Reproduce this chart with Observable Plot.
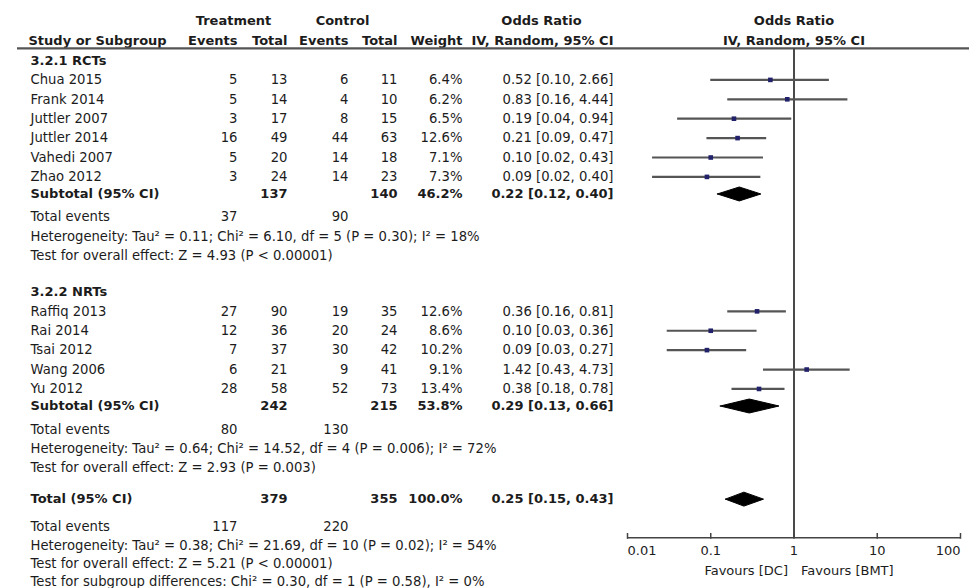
<!DOCTYPE html>
<html><head><meta charset="utf-8">
<script src="https://cdn.jsdelivr.net/npm/d3@7"></script>
<script src="https://cdn.jsdelivr.net/npm/@observablehq/plot@0.6"></script>
<style>body{margin:0;background:#fff} svg{display:block}</style>
</head><body><div id="chart"></div>
<script>
// ---- data ----
const groupLabels = ["3.2.1 RCTs", "3.2.2 NRTs"];

const rctStudies = ["Chua 2015","Frank 2014","Juttler 2007","Juttler 2014","Vahedi 2007","Zhao 2012"];
const rctTreatEvents = [5,5,3,16,5,3];
const rctTreatTotal = [13,14,17,49,20,24];
const rctCtrlEvents = [6,4,8,44,14,14];
const rctCtrlTotal = [11,10,15,63,18,23];
const rctWeight = [6.4,6.2,6.5,12.6,7.1,7.3];
const rctOR = [0.52,0.83,0.19,0.21,0.10,0.09];
const rctLo = [0.10,0.16,0.04,0.09,0.02,0.02];
const rctHi = [2.66,4.44,0.94,0.47,0.43,0.40];

const nrtStudies = ["Raffiq 2013","Rai 2014","Tsai 2012","Wang 2006","Yu 2012"];
const nrtTreatEvents = [27,12,7,6,28];
const nrtTreatTotal = [90,36,37,21,58];
const nrtCtrlEvents = [19,20,30,9,52];
const nrtCtrlTotal = [35,24,42,41,73];
const nrtWeight = [12.6,8.6,10.2,9.1,13.4];
const nrtOR = [0.36,0.10,0.09,1.42,0.38];
const nrtLo = [0.16,0.03,0.03,0.43,0.18];
const nrtHi = [0.81,0.36,0.27,4.73,0.78];

// subtotals: [RCTs, NRTs, Overall]
const sumLabels = ["Subtotal (95% CI)","Subtotal (95% CI)","Total (95% CI)"];
const sumTreatTotal = [137,242,379];
const sumCtrlTotal = [140,215,355];
const sumWeight = [46.2,53.8,100.0];
const sumOR = [0.22,0.29,0.25];
const sumLo = [0.12,0.13,0.15];
const sumHi = [0.40,0.66,0.43];
const sumTreatEvents = [37,80,117];
const sumCtrlEvents = [90,130,220];
const hetTexts = [
  "Heterogeneity: Tau² = 0.11; Chi² = 6.10, df = 5 (P = 0.30); I² = 18%",
  "Heterogeneity: Tau² = 0.64; Chi² = 14.52, df = 4 (P = 0.006); I² = 72%",
  "Heterogeneity: Tau² = 0.38; Chi² = 21.69, df = 10 (P = 0.02); I² = 54%"
];
const effectTexts = [
  "Test for overall effect: Z = 4.93 (P < 0.00001)",
  "Test for overall effect: Z = 2.93 (P = 0.003)",
  "Test for overall effect: Z = 5.21 (P < 0.00001)"
];
const subgroupText = "Test for subgroup differences: Chi² = 0.30, df = 1 (P = 0.58), I² = 0%";
const axisTicks = [0.01, 0.1, 1, 10, 100];
const favours = ["Favours [DC]", "Favours [BMT]"];

// ---- build rows (row units) ----
const rows = [];
let u = 0;
function add(gap, obj) { u += gap; rows.push({...obj, u}); }
const groups = [
  {names: rctStudies, te: rctTreatEvents, tt: rctTreatTotal, ce: rctCtrlEvents, ct: rctCtrlTotal, w: rctWeight, or: rctOR, lo: rctLo, hi: rctHi},
  {names: nrtStudies, te: nrtTreatEvents, tt: nrtTreatTotal, ce: nrtCtrlEvents, ct: nrtCtrlTotal, w: nrtWeight, or: nrtOR, lo: nrtLo, hi: nrtHi}
];
groups.forEach((g, gi) => {
  add(gi === 0 ? 0 : 1.85, {kind: "group", name: groupLabels[gi]});
  g.names.forEach((n, i) => add(1.0, {kind: "study", name: n, te: g.te[i], tt: g.tt[i], ce: g.ce[i], ct: g.ct[i], w: g.w[i], or: g.or[i], lo: g.lo[i], hi: g.hi[i]}));
  add(0.88, {kind: "sum", name: sumLabels[gi], tt: sumTreatTotal[gi], ct: sumCtrlTotal[gi], w: sumWeight[gi], or: sumOR[gi], lo: sumLo[gi], hi: sumHi[gi]});
  add(1.2, {kind: "events", name: "Total events", te: sumTreatEvents[gi], ce: sumCtrlEvents[gi]});
  add(1.0, {kind: "note", name: hetTexts[gi]});
  add(1.0, {kind: "note", name: effectTexts[gi]});
});
add(1.6, {kind: "sum", name: sumLabels[2], tt: sumTreatTotal[2], ct: sumCtrlTotal[2], w: sumWeight[2], or: sumOR[2], lo: sumLo[2], hi: sumHi[2]});
add(1.4, {kind: "events", name: "Total events", te: sumTreatEvents[2], ce: sumCtrlEvents[2]});
add(1.0, {kind: "note", name: hetTexts[2]});
add(0.95, {kind: "note", name: effectTexts[2]});
add(0.9, {kind: "note", name: subgroupText});

const studies = rows.filter(r => r.kind === "study");
const sums = rows.filter(r => r.kind === "sum");
const fmtCI = r => `${r.or.toFixed(2)} [${r.lo.toFixed(2)}, ${r.hi.toFixed(2)}]`;
const fmtW = r => `${r.w.toFixed(1)}%`;

// diamond polygons
const diamonds = sums.flatMap((r, i) => {
  const h = 0.36;
  return [
    {id: i, x: r.lo, y: r.u}, {id: i, x: r.or, y: r.u - h},
    {id: i, x: r.hi, y: r.u}, {id: i, x: r.or, y: r.u + h}, {id: i, x: r.lo, y: r.u}
  ];
});

// layout constants (row units / px)
const UNIT = 19.4, TOP = 60;
const headerRow1 = -2.06, headerRow2 = -1.03, headerLine = -0.62;
const axisRow = 24.6, tickLabelRow = 25.27, favoursRow = 26.3;

const FONT = "DejaVu Sans, sans-serif";
const txt = "#1c1c1c";
const NS = 13.2, BS = 13;

function col(data, text, dx, anchor, bold) {
  return Plot.text(data, {y: "u", text, frameAnchor: "left", dx, textAnchor: anchor,
    fontWeight: bold ? "bold" : "normal", fontSize: bold ? BS : NS, fill: txt});
}
const nonBoldNames = rows.filter(r => r.kind === "study" || r.kind === "events" || r.kind === "note");
const boldNames = rows.filter(r => r.kind === "group" || r.kind === "sum");
const eventsRows = rows.filter(r => r.kind === "events");

const header1 = [{u: headerRow1}];
const header2 = [{u: headerRow2}];

const chart = Plot.plot({
  width: 969, height: 588,
  marginLeft: 0, marginRight: 0, marginTop: 0, marginBottom: 0,
  style: {fontFamily: FONT, background: "#fff"},
  x: {type: "log", domain: [0.01, 100], range: [627, 960], axis: null},
  y: {domain: [-TOP / UNIT, (588 - TOP) / UNIT], range: [0, 588], axis: null},
  marks: [
    // header
    col(header1, () => "Treatment", 233, "middle", true),
    col(header1, () => "Control", 342, "middle", true),
    col(header1, () => "Odds Ratio", 541, "middle", true),
    col(header2, () => "Study or Subgroup", 28, "start", true),
    col(header2, () => "Events", 237, "end", true),
    col(header2, () => "Total", 287, "end", true),
    col(header2, () => "Events", 348, "end", true),
    col(header2, () => "Total", 397, "end", true),
    col(header2, () => "Weight", 462, "end", true),
    col(header2, () => "IV, Random, 95% CI", 542, "middle", true),
    Plot.text(header1, {x: () => 1, y: "u", text: () => "Odds Ratio", fontWeight: "bold", fontSize: BS, fill: txt}),
    Plot.text(header2, {x: () => 1, y: "u", text: () => "IV, Random, 95% CI", fontWeight: "bold", fontSize: BS, fill: txt}),
    Plot.ruleY([headerLine], {insetLeft: 17, stroke: "#555", strokeWidth: 2.2}),

    // table body
    col(nonBoldNames, "name", 30, "start", false),
    col(boldNames, "name", 30, "start", true),
    col(studies, "te", 237, "end", false),
    col(studies, "tt", 287, "end", false),
    col(studies, "ce", 348, "end", false),
    col(studies, "ct", 397, "end", false),
    col(studies, fmtW, 462, "end", false),
    col(studies, fmtCI, 613, "end", false),
    col(sums, "tt", 287, "end", true),
    col(sums, "ct", 397, "end", true),
    col(sums, fmtW, 462, "end", true),
    col(sums, fmtCI, 613, "end", true),
    col(eventsRows, "te", 237, "end", false),
    col(eventsRows, "ce", 348, "end", false),

    // forest
    Plot.ruleX([1], {y1: headerLine, y2: axisRow, stroke: "#4a4a4a", strokeWidth: 2}),
    Plot.ruleY(studies, {y: "u", x1: "lo", x2: "hi", stroke: "#555", strokeWidth: 2.2}),
    Plot.dot(studies, {x: "or", y: "u", symbol: "square", r: 2.6, fill: "#22226a", stroke: "none"}),
    Plot.line(diamonds, {x: "x", y: "y", z: "id", fill: "#000", stroke: "#000", strokeWidth: 1, curve: "linear"}),

    // axis
    Plot.ruleY([axisRow], {x1: axisTicks[0], x2: axisTicks[axisTicks.length - 1], stroke: "#444", strokeWidth: 1.5}),
    Plot.ruleX(axisTicks, {y1: axisRow - 0.22, y2: axisRow + 0.08, stroke: "#444", strokeWidth: 1.5}),
    Plot.text(axisTicks.slice(0, 1), {x: d => d, y: () => tickLabelRow, text: d => String(d), textAnchor: "start", fontSize: 13, fill: txt}),
    Plot.text(axisTicks.slice(1, -1), {x: d => d, y: () => tickLabelRow, text: d => String(d), textAnchor: "middle", fontSize: 13, fill: txt}),
    Plot.text(axisTicks.slice(-1), {x: d => d, y: () => tickLabelRow, text: d => String(d), textAnchor: "end", fontSize: 13, fill: txt}),
    Plot.text([favours[0]], {x: () => 1, y: () => favoursRow, text: d => d, textAnchor: "end", dx: -6, fontSize: 13, fill: txt}),
    Plot.text([favours[1]], {x: () => 1, y: () => favoursRow, text: d => d, textAnchor: "start", dx: 7, fontSize: 13, fill: txt})
  ]
});
document.getElementById("chart").appendChild(chart);
</script>
</body></html>
